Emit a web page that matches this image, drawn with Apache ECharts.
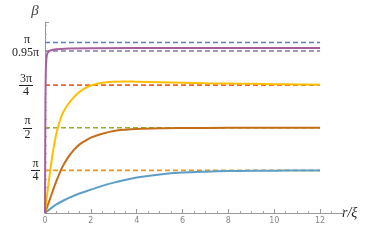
<!DOCTYPE html>
<html>
<head>
<meta charset="utf-8">
<script src="https://cdn.jsdelivr.net/npm/echarts@6/dist/echarts.min.js"></script>
<style>html,body{margin:0;padding:0;background:#fff}#c{width:374px;height:241px}</style>
</head>
<body>
<div id="c"></div>
<script>
const PI = Math.PI;
// Reference (dashed) levels
const refLevels = [PI, 0.95 * PI, 3 * PI / 4, PI / 2, PI / 4];
const refXRange = [0, 12];
// Curves
const blueX = [0, 0.5, 1, 1.5, 2, 2.5, 3, 3.5, 4, 5, 6, 7, 8, 9, 10, 11, 12];
const blueY = [0, 0.16, 0.27, 0.36, 0.43, 0.50, 0.56, 0.61, 0.655, 0.71, 0.745, 0.762, 0.772, 0.777, 0.780, 0.782, 0.783];
const orangeX = [0, 0.25, 0.5, 0.75, 1, 1.25, 1.5, 1.75, 2, 2.5, 3, 3.5, 4, 5, 6, 8, 10, 12];
const orangeY = [0, 0.30, 0.59, 0.84, 1.02, 1.16, 1.26, 1.33, 1.39, 1.46, 1.51, 1.535, 1.55, 1.562, 1.566, 1.569, 1.570, 1.570];
const yellowX = [0, 0.1, 0.2, 0.3, 0.4, 0.5, 0.6, 0.7, 0.8, 1, 1.25, 1.5, 1.75, 2, 2.5, 3, 3.5, 4, 5, 6, 7, 8, 9, 10, 11, 12];
const yellowY = [0, 0.36, 0.70, 1.00, 1.26, 1.47, 1.63, 1.76, 1.86, 2.00, 2.13, 2.23, 2.30, 2.35, 2.40, 2.42, 2.425, 2.42, 2.41, 2.40, 2.39, 2.385, 2.38, 2.375, 2.37, 2.365];
const purpleX = [0, 0.01, 0.02, 0.03, 0.04, 0.06, 0.08, 0.11, 0.15, 0.2, 0.27, 0.35, 0.5, 0.7, 1, 2, 4, 8, 12];
const purpleY = [0, 1.2, 2.1, 2.5, 2.7, 2.84, 2.91, 2.95, 2.975, 2.99, 3.0, 3.01, 3.018, 3.024, 3.03, 3.035, 3.04, 3.04, 3.04];
// Ticks
const xTickValues = [0, 2, 4, 6, 8, 10, 12];
const yTickValues = [PI / 4, PI / 2, 3 * PI / 4, 0.95 * PI];
const yTickNum = ['π', 'π', '3π', '0.95π'];
const yTickDen = ['4', '2', '4', ''];
const yTopLabel = 'π'; // label of the π tick, stacked above 0.95π

// styles
const refColors = ['#5E81B5', '#8778B3', '#EB6235', '#8FB032', '#E09C24'];
const curveColors = ['#5D9EC7', '#C56E1A', '#FFBF00', '#A5609D'];
const labelPadRight = [0, 8, 7, 1];
const LABEL_MARGIN = 5;
const fracWidth = i => (yTickNum[i].length > 1 ? 14 : 9);

const serif = '"Liberation Serif", "DejaVu Serif", serif';
const rich = {};
yTickValues.forEach((v, i) => {
  const w = fracWidth(i);
  const base = {fontFamily: serif, fontSize: 12, color: '#222', align: 'center'};
  if (yTickDen[i]) {
    rich['n' + i] = Object.assign({}, base, {width: w, lineHeight: 13.5, padding: [0, labelPadRight[i], 0, 0]});
    rich['d' + i] = Object.assign({}, base, {width: w, lineHeight: 13.5, padding: [0, labelPadRight[i], 0, 0]});
  }
});
rich.top = {fontFamily: serif, fontSize: 12, color: '#222', align: 'right', lineHeight: 13, padding: [0, 10, 0, 0]};
rich.low = {fontFamily: serif, fontSize: 12, color: '#222', align: 'right', lineHeight: 13, padding: [0, 1, 0, 0]};
rich.sp = {fontSize: 1, lineHeight: 9.4, align: 'right'};

function pairs(xs, ys) { return xs.map((x, i) => [x, ys[i]]); }

const series = [];
refLevels.forEach((v, i) => {
  series.push({
    type: 'line', data: refXRange.map(x => [x, v]), symbol: 'none', silent: true,
    lineStyle: {color: refColors[i], width: 1.6, type: [5, 3]}, z: 2
  });
});
[[blueX, blueY], [orangeX, orangeY], [yellowX, yellowY], [purpleX, purpleY]].forEach((d, i) => {
  series.push({
    type: 'line', data: pairs(d[0], d[1]), symbol: 'none', smooth: i === 3 ? false : 0.35,
    lineStyle: {color: curveColors[i], width: 2}, z: 3
  });
});

const chart = echarts.init(document.getElementById('c'), null, {renderer: 'canvas'});
chart.setOption({
  animation: false,
  grid: {left: 45, right: 31, top: 22, bottom: 28, containLabel: false, outerBoundsMode: 'none'},
  xAxis: {
    type: 'value', min: 0, max: 13, interval: 2,
    name: 'r/ξ', nameLocation: 'end', nameGap: -1,
    nameTextStyle: {fontFamily: serif, fontStyle: 'italic', fontSize: 14, color: '#222', padding: [0, 0, 20, 0], verticalAlign: 'middle', align: 'left'},
    axisLine: {lineStyle: {color: '#999', width: 1}},
    axisTick: {inside: true, length: 4, lineStyle: {color: '#999'}},
    minorTick: {show: true, splitNumber: 4, length: 2, lineStyle: {color: '#aaa'}},
    splitLine: {show: false},
    axisLabel: {customValues: xTickValues, color: '#888', fontSize: 8, fontFamily: '"DejaVu Sans", sans-serif', margin: 4, hideOverlap: false, formatter: v => String(v)}
  },
  yAxis: {
    type: 'value', min: 0, max: 3.52, interval: PI / 4,
    name: 'β', nameLocation: 'end', nameGap: 3,
    nameTextStyle: {fontFamily: serif, fontStyle: 'italic', fontSize: 15, color: '#444', align: 'center', padding: [0, 20, 0, 0]},
    axisLine: {lineStyle: {color: '#999', width: 1}},
    axisTick: {inside: true, length: 4, lineStyle: {color: '#999'}},
    minorTick: {show: true, splitNumber: 5, length: 2, lineStyle: {color: '#aaa'}},
    splitLine: {show: false},
    axisLabel: {
      customValues: yTickValues, margin: LABEL_MARGIN, align: 'right', verticalAlign: 'middle', rich: rich, hideOverlap: false,
      formatter: function (v) {
        let i = 0, best = Infinity;
        yTickValues.forEach((t, k) => { if (Math.abs(t - v) < best) { best = Math.abs(t - v); i = k; } });
        if (yTickDen[i]) return '{n' + i + '|' + yTickNum[i] + '}\n{d' + i + '|' + yTickDen[i] + '}';
        return '{top|' + yTopLabel + '}\n{low|' + yTickNum[i] + '}\n{sp| }';
      }
    }
  },
  series: series
});

// fraction bars, placed from the axis scale
const axisX = chart.convertToPixel({xAxisIndex: 0}, 0);
const bars = [];
yTickValues.forEach((v, i) => {
  if (!yTickDen[i]) return;
  const y = Math.round(chart.convertToPixel({yAxisIndex: 0}, v)) + 0.5;
  const right = axisX - LABEL_MARGIN - labelPadRight[i];
  bars.push({type: 'line', silent: true, z: 10,
    shape: {x1: right - fracWidth(i), y1: y, x2: right, y2: y},
    style: {stroke: '#222', lineWidth: 1}});
});
chart.setOption({graphic: bars});
</script>
</body>
</html>
